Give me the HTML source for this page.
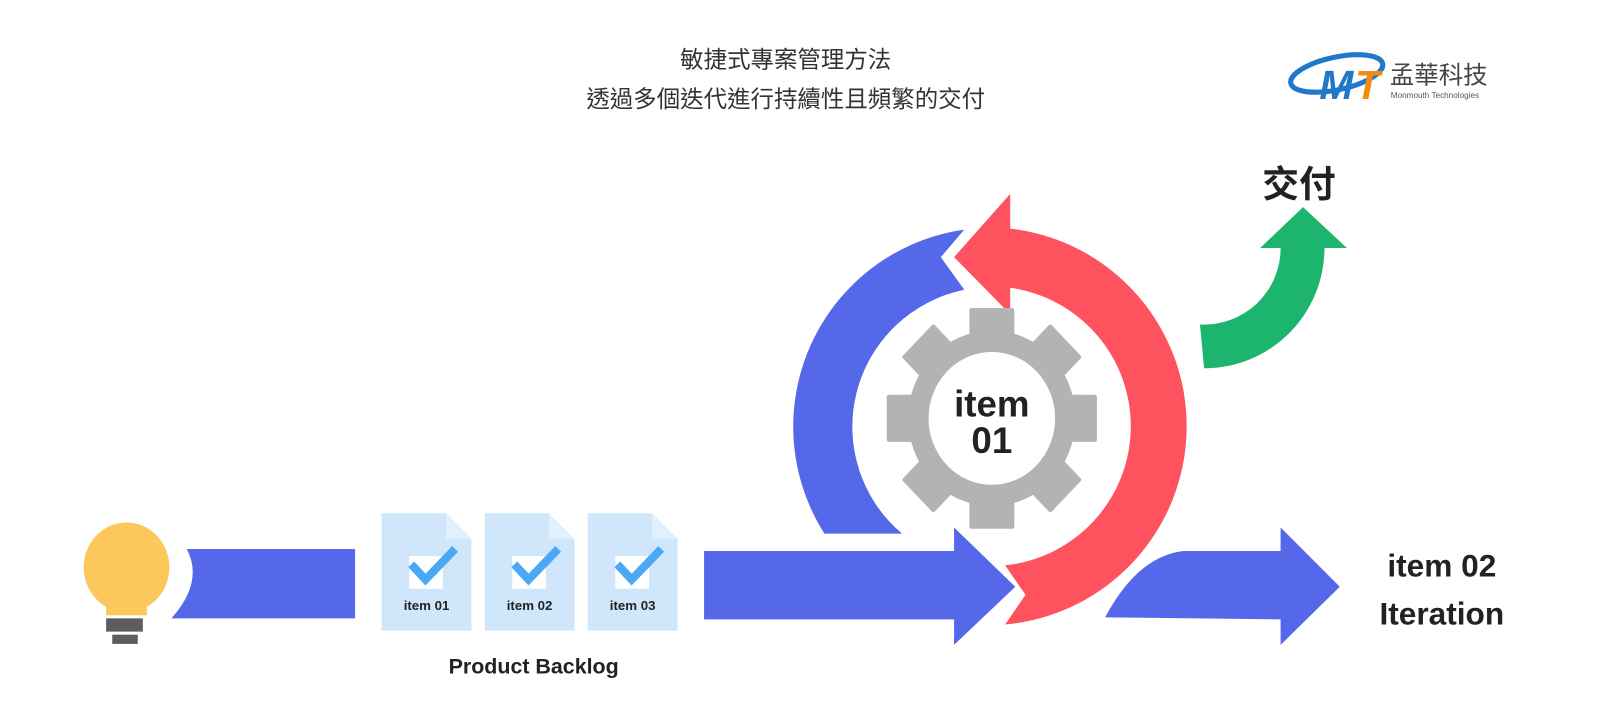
<!DOCTYPE html>
<html><head><meta charset="utf-8"><style>
html,body{margin:0;padding:0;background:#fff;}
svg{display:block;}
text{font-family:"Liberation Sans","Noto Sans CJK TC",sans-serif;}
</style></head><body>
<svg width="1600" height="720" viewBox="0 0 1600 720" xmlns="http://www.w3.org/2000/svg">
<rect width="1600" height="720" fill="#fff"/>
<g transform="scale(1.0204)">
<text x="770" y="66" text-anchor="middle" font-size="23" fill="#333">敏捷式專案管理方法</text>
<text x="770" y="105" text-anchor="middle" font-size="23" fill="#333">透過多個迭代進行持續性且頻繁的交付</text>
<!-- logo -->
<g>
<ellipse cx="1310" cy="72" rx="46" ry="16" fill="none" stroke="#1f78c8" stroke-width="5" transform="rotate(-12 1310 72)"/>
<text x="1293" y="97" font-size="40" font-weight="bold" font-style="italic" fill="#1f78c8">M</text>
<text x="1328" y="97" font-size="40" font-weight="bold" font-style="italic" fill="#f28c10">T</text>
<text x="1362" y="82" font-size="24" fill="#444">孟華科技</text>
<text x="1363" y="96" font-size="8" fill="#555">Monmouth Technologies</text>
</g>
<text x="1273" y="193" text-anchor="middle" font-size="36" font-weight="bold" fill="#222">交付</text>
<!-- green arrow -->
<path d="M1180,361 A118,118 0 0 0 1298,243 L1320,243 L1277,203 L1235,243 L1255,243 A75,75 0 0 1 1176,318 Z" fill="#1db46e"/>
<!-- blue arc -->
<path d="M808,523 A195,195 0 0 1 945,225 L922,252 L945,284 A137,137 0 0 0 884,523 Z" fill="#5568ea"/>
<!-- red arc -->
<path d="M990,190 L935,252 L990,308 L990,282 A137,137 0 0 1 985,554 L1005,583 L985,612 A195,195 0 0 0 990,224 Z" fill="#fe535e"/>
<!-- gear -->
<g transform="translate(972,410) scale(1,1.05)" fill="#b3b3b3">
<circle r="82"/>
<g id="t"><rect x="-22" y="-103" width="44" height="40" rx="2"/></g>
<use href="#t" transform="rotate(45)"/><use href="#t" transform="rotate(90)"/><use href="#t" transform="rotate(135)"/>
<use href="#t" transform="rotate(180)"/><use href="#t" transform="rotate(225)"/><use href="#t" transform="rotate(270)"/><use href="#t" transform="rotate(315)"/>
<circle r="62" fill="#fff"/>
</g>
<text x="972" y="408" text-anchor="middle" font-size="36" font-weight="bold" fill="#222">item</text>
<text x="972" y="444" text-anchor="middle" font-size="36" font-weight="bold" fill="#222">01</text>
<!-- bulb -->
<ellipse cx="124" cy="556" rx="42" ry="44" fill="#fdc85b"/>
<rect x="104" y="585" width="40" height="18" fill="#fdc85b"/>
<rect x="104" y="606" width="36" height="13" fill="#5d5d5d"/>
<rect x="110" y="622" width="25" height="9" fill="#5d5d5d"/>
<!-- blue bar 1 -->
<path d="M168,606 Q200,570 183,538 L348,538 L348,606 Z" fill="#5568ea"/>
<!-- docs -->
<g id="d">
<path d="M374,503 L437,503 L462,528 L462,618 L374,618 Z" fill="#cfe6fb"/>
<path d="M437,503 L462,528 L437,528 Z" fill="#e2effc"/>
<rect x="401" y="545" width="33" height="32" fill="#fff"/>
<path d="M403,553 L417,568 L446,538" fill="none" stroke="#4aa8f5" stroke-width="8"/>
</g>
<use href="#d" x="101"/><use href="#d" x="202"/>
<text x="418" y="598" text-anchor="middle" font-size="13" font-weight="bold" fill="#222">item 01</text>
<text x="519" y="598" text-anchor="middle" font-size="13" font-weight="bold" fill="#222">item 02</text>
<text x="620" y="598" text-anchor="middle" font-size="13" font-weight="bold" fill="#222">item 03</text>
<text x="523" y="660" text-anchor="middle" font-size="21" font-weight="bold" fill="#222">Product Backlog</text>
<!-- blue arrow 1 -->
<path d="M690,540 L935,540 L935,517 L995,575 L935,632 L935,607 L690,607 Z" fill="#5568ea"/>
<!-- blue arrow 2 -->
<path d="M1083,605 Q1115,545 1160,540 L1255,540 L1255,517 L1313,575 L1255,632 L1255,607 Z" fill="#5568ea"/>
<text x="1413" y="565" text-anchor="middle" font-size="31" font-weight="bold" fill="#222">item 02</text>
<text x="1413" y="612" text-anchor="middle" font-size="31" font-weight="bold" fill="#222">Iteration</text>
</g>
</svg>
</body></html>
